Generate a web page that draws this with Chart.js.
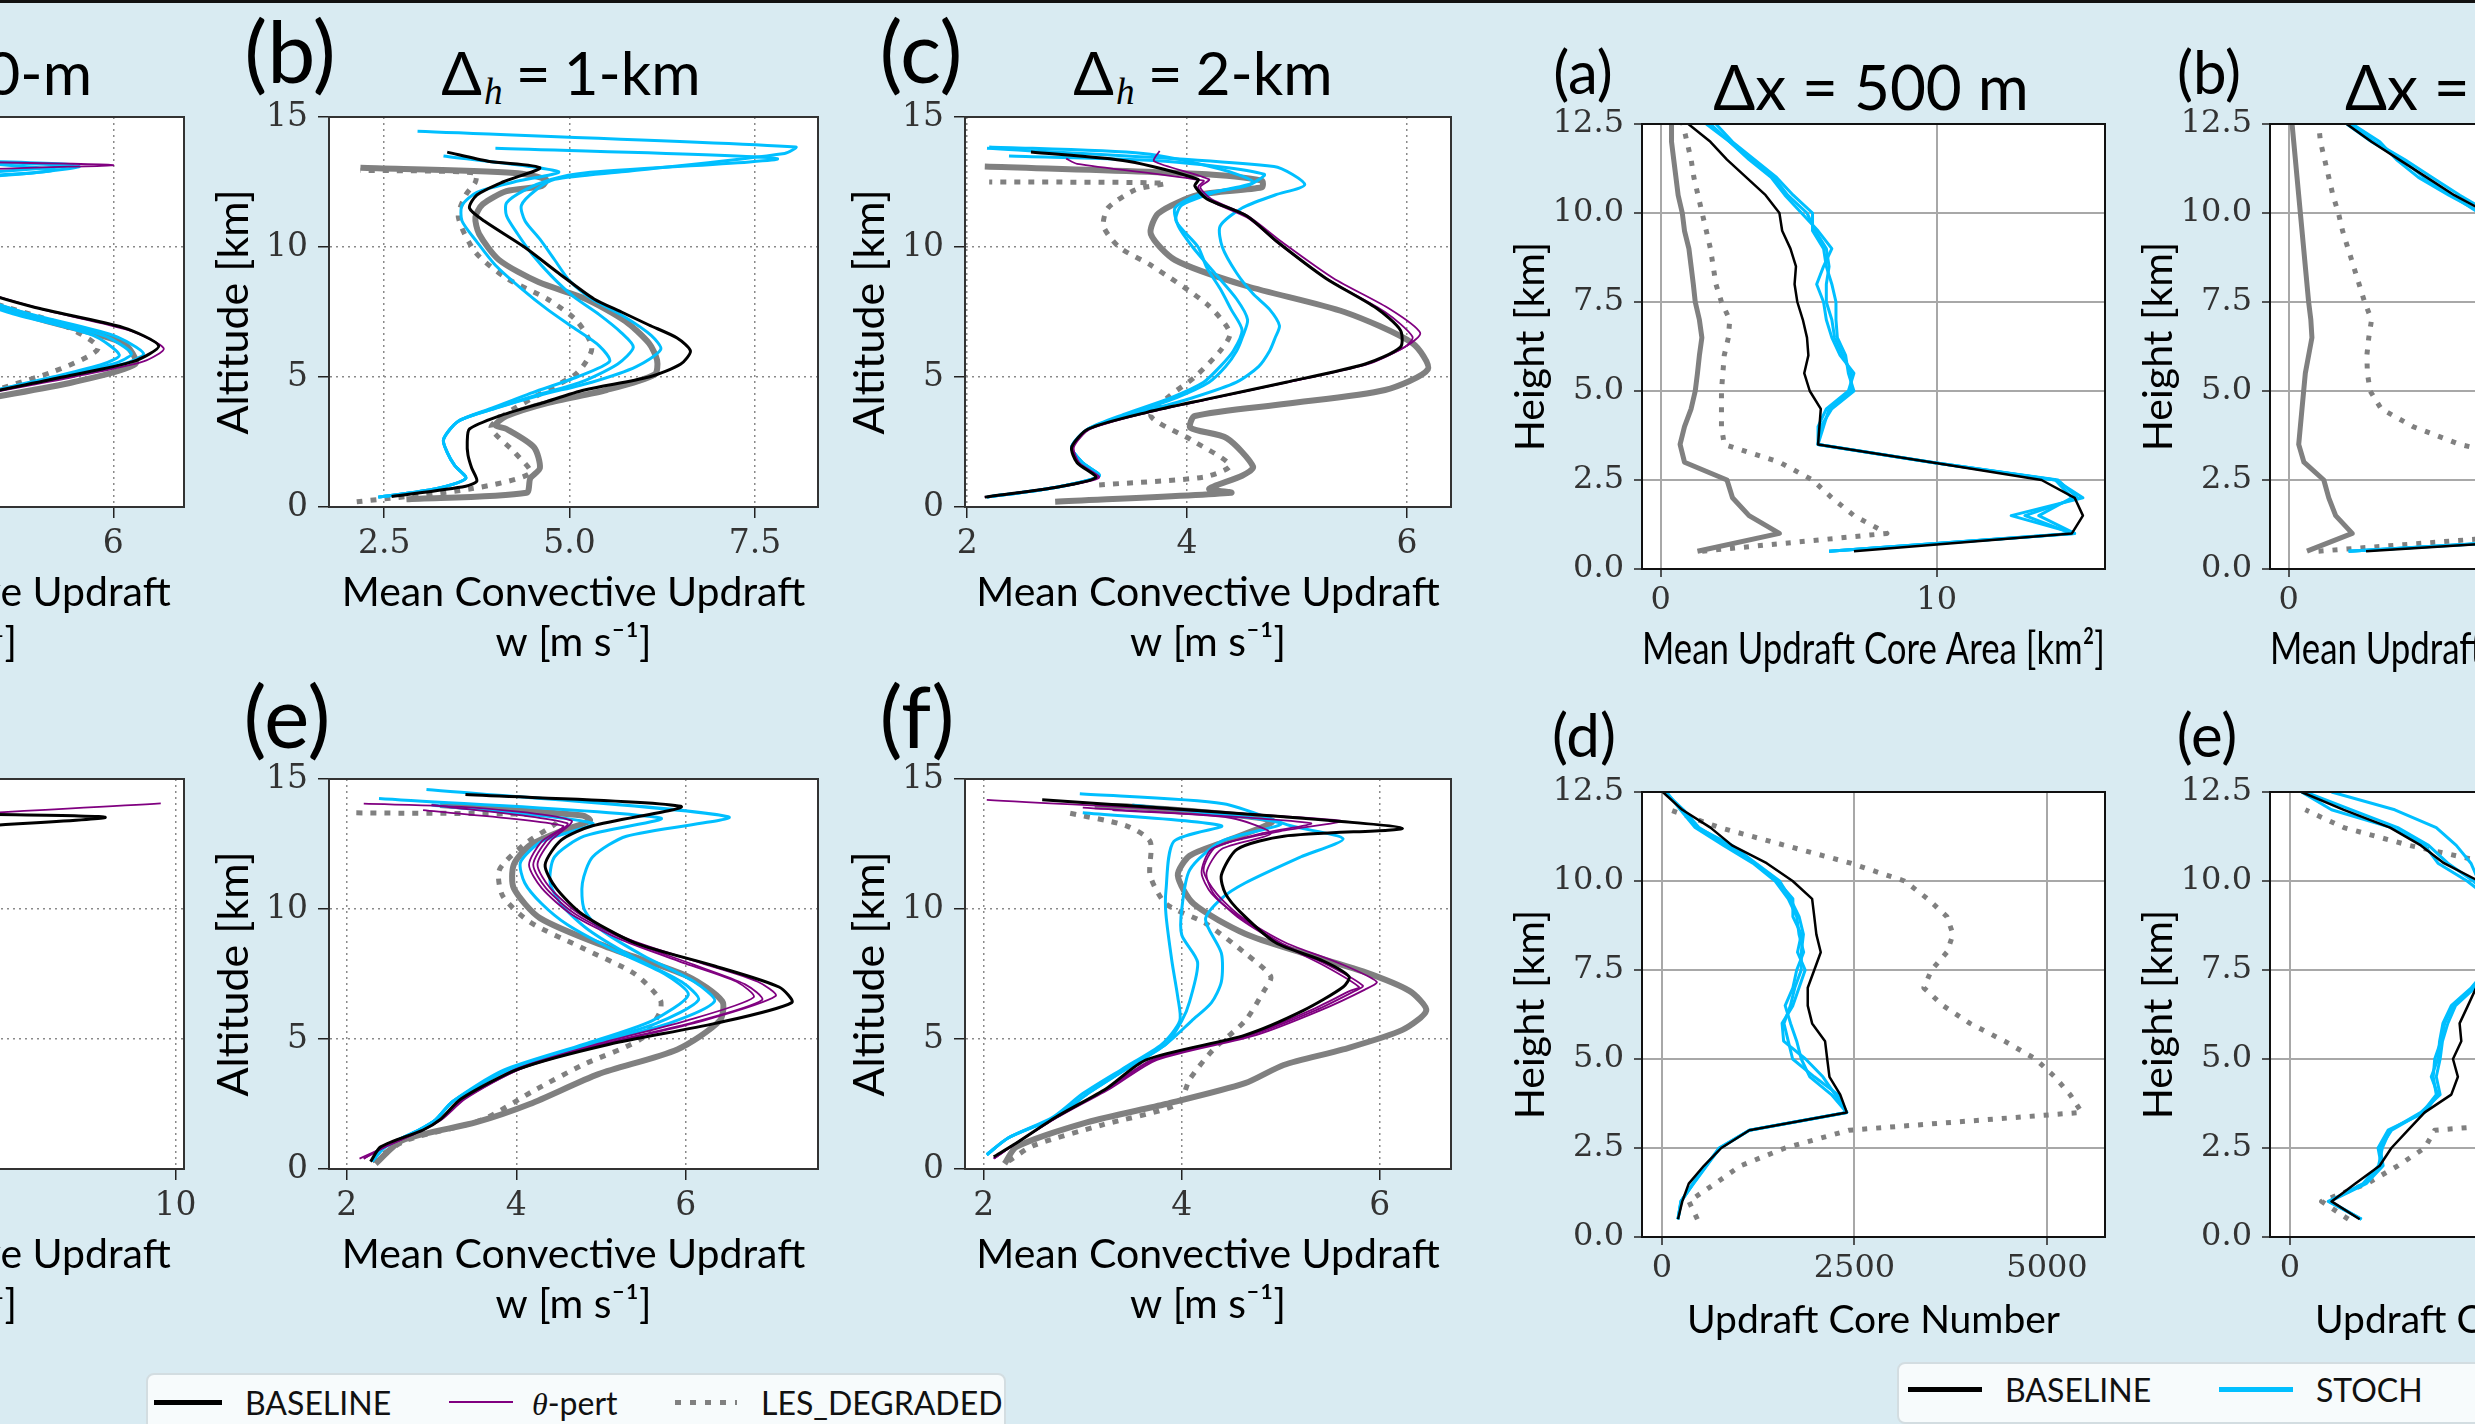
<!DOCTYPE html>
<html>
<head>
<meta charset="utf-8">
<script src="https://cdn.jsdelivr.net/npm/chart.js@4.4.1/dist/chart.umd.min.js"></script>
<style>
html, body { margin: 0; padding: 0; }
body { width: 2475px; height: 1424px; overflow: hidden; position: relative; background: #d9ebf2; }
canvas { position: absolute; }
.topline { position: absolute; left: 0; top: 0; width: 2475px; height: 3px; background: #111; }
.t { position: absolute; font-family: Lato, sans-serif; color: #000; white-space: nowrap; line-height: 1; transform: translate(-50%, -50%); }
.tr { transform: translate(-100%, -50%); }
.tl { transform: translate(0, -50%); }
.t sub { font-family: 'Liberation Serif', serif; font-style: italic; font-size: 0.62em; vertical-align: -0.25em; margin-left: 2px; }
.t .eq { margin: 0 0.22em; }
.legbox { position: absolute; background: #f7fbfc; border: 2px solid #d3dde1; border-radius: 8px; }
.legline { position: absolute; }
.legtxt { position: absolute; font-family: Lato, sans-serif; font-size: 32px; line-height: 1; color: #111; transform: translate(0, -50%); white-space: nowrap; }
</style>
</head>
<body>
<div class="topline"></div>

<!-- left figure: panel letters and titles -->
<div class="t tr" style="left:92px;top:76px;font-size:60px">&Delta;<sub>h</sub><span class="eq">=</span>500-m</div>
<div class="t" style="left:290px;top:50px;font-size:86px">(b)</div>
<div class="t" style="left:571px;top:76px;font-size:60px">&Delta;<sub>h</sub><span class="eq">=</span>1-km</div>
<div class="t" style="left:921px;top:50px;font-size:86px">(c)</div>
<div class="t" style="left:1203px;top:76px;font-size:60px">&Delta;<sub>h</sub><span class="eq">=</span>2-km</div>
<div class="t" style="left:287px;top:715px;font-size:86px">(e)</div>
<div class="t" style="left:917px;top:715px;font-size:86px">(f)</div>

<!-- right figure: panel letters and titles -->
<div class="t" style="left:1583px;top:71px;font-size:60px">(a)</div>
<div class="t" style="left:1871px;top:86px;font-size:62px">&Delta;x = 500 m</div>
<div class="t" style="left:2209px;top:71px;font-size:60px">(b)</div>
<div class="t tl" style="left:2345px;top:86px;font-size:62px">&Delta;x = 1 km</div>
<div class="t" style="left:1584px;top:734px;font-size:60px">(d)</div>
<div class="t" style="left:2207px;top:734px;font-size:60px">(e)</div>

<!-- legends -->
<div class="legbox" style="left:146px;top:1373px;width:856px;height:100px"></div>
<div class="legline" style="left:154px;top:1400px;width:68px;height:5px;background:#000"></div>
<div class="legtxt" style="left:245px;top:1403px">BASELINE</div>
<div class="legline" style="left:449px;top:1401px;width:64px;height:2px;background:#800080"></div>
<div class="legtxt" style="left:532px;top:1403px"><i style="font-family:'Liberation Serif',serif">&theta;</i>-pert</div>
<div class="legline" style="left:675px;top:1400px;width:62px;height:5px;background:repeating-linear-gradient(90deg,#808080 0 6px,transparent 6px 15px)"></div>
<div class="legtxt" style="left:761px;top:1403px">LES_DEGRADED</div>

<div class="legbox" style="left:1897px;top:1362px;width:700px;height:58px"></div>
<div class="legline" style="left:1908px;top:1387px;width:74px;height:5px;background:#000"></div>
<div class="legtxt" style="left:2005px;top:1390px">BASELINE</div>
<div class="legline" style="left:2219px;top:1387px;width:74px;height:5px;background:#00bfff"></div>
<div class="legtxt" style="left:2316px;top:1390px">STOCH</div>

<script>
// ---------- tick values and labels ----------
const altTicks = [0, 5, 10, 15];
const altLabels = ['0', '5', '10', '15'];
const w500Ticks = [2, 4, 6];
const w500Labels = ['2', '4', '6'];
const w1kmTicks = [2.5, 5.0, 7.5];
const w1kmLabels = ['2.5', '5.0', '7.5'];
const w2kmTicks = [2, 4, 6];
const w2kmLabels = ['2', '4', '6'];
const wBigTicks = [5, 10];
const wBigLabels = ['5', '10'];
const hTicks = [0, 2.5, 5, 7.5, 10, 12.5];
const hLabels = ['0.0', '2.5', '5.0', '7.5', '10.0', '12.5'];
const areaTicks = [0, 10];
const areaLabels = ['0', '10'];
const numTicks = [0, 2500, 5000];
const numLabels = ['0', '2500', '5000'];
const numTicksWide = [0, 5000];
const numLabelsWide = ['0', '5000'];

// ---------- left figure: mean convective updraft, [w (m/s), altitude (km)] ----------
// top row, partial panel (500-m)
const la_base = [[2.3,0.4],[2.8,1.0],[3.1,2.0],[3.5,3.0],[4.3,4.0],[5.5,5.0],[6.2,5.6],[6.45,6.2],[6.1,6.9],[5.2,7.7],[4.4,8.7],[3.9,10.0],[3.7,11.5],[3.9,12.5],[4.3,13.0],[3.2,13.5]];
const la_pert = [[2.3,0.4],[2.8,1.0],[3.1,2.0],[3.5,3.0],[4.3,4.0],[5.6,5.0],[6.3,5.6],[6.5,6.1],[6.15,6.8],[5.3,7.6],[4.4,8.7],[3.9,10.0],[3.7,11.5],[3.9,12.5],[4.6,12.95],[6.0,13.15],[4.2,13.3]];
const la_stoch1 = [[2.3,0.4],[2.8,1.0],[3.1,2.0],[3.5,3.0],[4.3,4.0],[5.5,5.0],[6.1,5.5],[6.3,5.9],[6.0,6.6],[5.1,7.5],[4.3,8.6],[3.9,10.0],[3.7,11.5],[4.0,12.5],[5.2,12.85],[5.66,13.1],[4.5,13.3]];
const la_stoch2 = [[2.3,0.4],[2.8,1.0],[3.1,2.0],[3.5,3.0],[4.3,4.0],[5.45,5.0],[6.0,5.5],[6.18,5.9],[5.9,6.6],[5.0,7.5],[4.25,8.6],[3.85,10.0],[3.7,11.5],[4.1,12.4],[5.4,12.95],[4.8,13.2],[3.9,13.4]];
const la_stoch3 = [[2.3,0.4],[2.8,1.0],[3.1,2.0],[3.5,3.0],[4.3,4.0],[5.4,5.0],[5.9,5.5],[6.06,5.85],[5.8,6.6],[4.95,7.5],[4.2,8.6],[3.8,10.0],[3.7,11.5],[4.2,12.6],[5.6,13.15],[4.0,13.35]];
const la_les = [[2.6,0.3],[3.0,1.0],[3.3,2.0],[3.6,3.0],[4.4,3.9],[5.6,4.8],[6.22,5.5],[6.1,6.3],[5.3,7.2],[4.5,8.2],[3.9,9.5],[3.6,11.0],[3.8,12.3],[3.0,13.0]];
const la_lesd = [[2.4,0.3],[2.9,1.0],[3.2,2.0],[3.6,3.0],[4.4,4.0],[5.4,5.2],[5.85,6.1],[5.5,7.0],[4.7,8.0],[4.0,9.3],[3.6,11.0],[3.7,12.3],[2.8,12.8]];

// (b) 1-km
const lb_base = [[2.6,0.4],[3.6,0.8],[3.75,1.0],[3.68,1.5],[3.63,2.0],[3.62,2.5],[3.65,3.0],[4.05,3.5],[4.63,4.0],[5.2,4.5],[6.07,5.0],[6.5,5.5],[6.63,6.0],[6.45,6.5],[6.07,7.0],[5.7,7.5],[5.33,8.0],[4.85,9.0],[4.39,10.0],[3.85,11.0],[3.65,11.5],[3.75,12.0],[4.1,12.5],[4.6,13.05],[3.9,13.3],[3.35,13.65]];
const lb_stoch1 = [[2.42,0.38],[3.2,0.7],[3.6,1.1],[3.45,1.6],[3.35,2.1],[3.3,2.6],[3.5,3.3],[4.0,3.8],[4.6,4.3],[5.3,4.8],[5.9,5.4],[6.23,6.06],[6.1,6.6],[5.75,7.3],[5.3,8.0],[5.0,8.7],[4.8,9.5],[4.6,10.3],[4.4,11.0],[4.35,11.6],[4.55,12.2],[4.8,12.6],[5.75,12.9],[7.9,13.6],[8.05,13.85],[2.95,14.45]];
const lb_stoch2 = [[2.42,0.38],[3.2,0.7],[3.6,1.1],[3.45,1.6],[3.35,2.1],[3.3,2.6],[3.5,3.3],[4.0,3.8],[4.55,4.3],[5.15,4.8],[5.65,5.5],[5.86,6.15],[5.7,6.7],[5.4,7.4],[5.05,8.1],[4.75,8.9],[4.5,9.7],[4.3,10.5],[4.15,11.2],[4.15,11.7],[4.4,12.2],[4.75,12.6],[5.2,12.85],[7.8,13.4],[4.0,13.8]];
const lb_stoch3 = [[2.42,0.38],[3.2,0.7],[3.6,1.1],[3.45,1.6],[3.35,2.1],[3.3,2.6],[3.5,3.3],[3.95,3.8],[4.5,4.4],[5.1,5.0],[5.54,5.6],[5.4,6.2],[5.05,6.9],[4.7,7.6],[4.35,8.4],[4.0,9.3],[3.75,10.2],[3.55,11.0],[3.55,11.6],[3.75,12.1],[4.25,12.5],[4.85,12.9],[3.3,13.5]];
const lb_les = [[2.8,0.3],[4.42,0.55],[4.47,1.1],[4.6,1.5],[4.52,2.3],[4.15,3.0],[4.0,3.15],[4.15,3.5],[4.7,4.0],[5.5,4.5],[6.15,5.1],[6.18,5.65],[6.07,6.3],[5.75,7.15],[5.22,8.0],[4.58,8.65],[4.05,9.5],[3.78,10.5],[3.73,11.15],[3.83,11.65],[4.15,12.15],[4.63,12.35],[4.68,12.6],[4.26,12.85],[2.18,13.05]];
const lb_lesd = [[2.13,0.2],[3.67,0.7],[4.47,1.3],[4.26,2.1],[3.94,3.05],[4.15,3.6],[4.7,4.5],[5.1,5.15],[5.3,6.1],[5.1,7.15],[4.7,8.0],[4.15,8.8],[3.73,9.8],[3.5,11.15],[3.6,12.0],[3.73,12.5],[3.73,12.85],[2.18,12.95]];

// (c) 2-km
const lc_base = [[2.16,0.38],[2.8,0.75],[3.17,1.13],[3.0,1.7],[2.95,2.3],[3.1,3.0],[3.64,3.65],[4.18,4.15],[4.9,4.8],[5.62,5.5],[5.94,6.15],[5.94,6.8],[5.72,7.65],[5.26,8.8],[4.82,10.2],[4.54,11.2],[4.18,11.85],[4.07,12.35],[4.1,12.6],[3.46,13.3],[2.58,13.65]];
const lc_pert1 = [[2.16,0.38],[2.8,0.75],[3.2,1.13],[3.02,1.7],[2.97,2.3],[3.12,3.0],[3.66,3.65],[4.2,4.15],[4.92,4.8],[5.65,5.5],[6.0,6.2],[6.12,6.7],[5.85,7.6],[5.33,8.8],[4.86,10.2],[4.55,11.2],[4.22,11.85],[4.12,12.3],[4.2,12.6],[3.7,13.3],[3.75,13.7]];
const lc_pert2 = [[2.16,0.38],[2.8,0.75],[3.18,1.13],[3.01,1.7],[2.96,2.3],[3.11,3.0],[3.65,3.65],[4.19,4.15],[4.91,4.8],[5.63,5.5],[5.98,6.15],[6.05,6.55],[5.8,7.5],[5.3,8.7],[4.84,10.1],[4.56,11.1],[4.2,11.8],[4.1,12.3],[4.15,12.55],[3.0,13.2],[2.9,13.4]];
const lc_stoch1 = [[2.18,0.38],[2.8,0.75],[3.2,1.2],[3.05,1.7],[2.95,2.3],[3.1,3.0],[3.55,3.6],[4.05,4.2],[4.45,4.8],[4.65,5.4],[4.75,6.0],[4.8,6.5],[4.84,6.97],[4.75,7.6],[4.6,8.2],[4.45,9.0],[4.32,10.0],[4.3,10.8],[4.5,11.5],[4.8,12.0],[5.07,12.4],[4.79,13.1],[2.18,13.8]];
const lc_stoch2 = [[2.18,0.38],[2.8,0.75],[3.2,1.2],[3.05,1.7],[2.95,2.3],[3.1,3.0],[3.5,3.6],[3.9,4.2],[4.2,4.8],[4.35,5.4],[4.45,6.0],[4.5,6.5],[4.55,7.2],[4.45,8.0],[4.25,9.0],[4.05,10.0],[3.92,10.8],[3.89,11.5],[4.1,12.0],[4.54,12.35],[4.7,12.8],[3.8,13.3],[2.38,13.5]];
const lc_stoch3 = [[2.18,0.38],[2.8,0.75],[3.2,1.2],[3.05,1.7],[2.95,2.3],[3.1,3.0],[3.45,3.6],[3.85,4.2],[4.15,4.8],[4.3,5.4],[4.42,6.0],[4.5,6.8],[4.4,7.6],[4.3,8.4],[4.18,9.2],[4.1,10.0],[3.9,11.0],[3.95,11.6],[4.25,12.1],[4.6,12.5],[4.3,13.0],[3.6,13.6],[2.2,13.85]];
const lc_les = [[2.8,0.2],[4.4,0.55],[4.2,0.7],[4.5,1.2],[4.6,1.55],[4.36,2.65],[4.03,3.05],[4.07,3.5],[4.9,3.97],[5.8,4.5],[6.19,5.3],[6.05,6.3],[5.43,7.5],[4.54,8.5],[3.89,9.5],[3.67,10.5],[3.74,11.3],[4.1,12.0],[4.68,12.3],[4.68,12.55],[4.18,12.8],[2.16,13.1]];
const lc_lesd = [[3.2,0.85],[4.15,1.15],[4.39,1.6],[4.03,2.6],[3.67,3.5],[3.85,4.3],[4.07,5.0],[4.3,6.0],[4.39,6.7],[4.18,7.8],[3.67,9.3],[3.38,10.0],[3.24,10.8],[3.28,11.5],[3.53,12.2],[3.8,12.45],[2.2,12.5]];

// bottom row, partial panel
const ld_base = [[2.2,0.3],[2.6,1.0],[3.1,2.0],[3.6,3.0],[4.5,4.0],[5.6,5.0],[6.4,6.0],[6.6,6.6],[6.2,7.3],[5.3,8.2],[4.6,9.2],[4.2,10.2],[4.0,11.2],[4.3,12.2],[5.0,12.9],[8.76,13.52],[5.5,13.7],[3.0,14.1]];
const ld_pert = [[2.2,0.3],[2.6,1.0],[3.1,2.0],[3.6,3.0],[4.5,4.0],[5.5,5.0],[6.3,6.0],[6.5,6.6],[6.1,7.3],[5.2,8.2],[4.5,9.2],[4.1,10.2],[3.9,11.2],[4.1,12.2],[4.3,12.9],[4.0,13.3],[9.74,14.06]];
const ld_stoch = [[2.2,0.3],[2.6,1.0],[3.0,2.0],[3.5,3.0],[4.3,4.0],[5.3,5.0],[6.0,6.0],[6.2,6.6],[5.8,7.3],[5.0,8.2],[4.4,9.2],[4.1,10.2],[3.9,11.2],[4.2,12.2],[5.2,13.0],[6.2,13.4],[3.5,14.0]];
const ld_les = [[2.3,0.3],[2.7,1.0],[3.3,2.0],[3.9,3.0],[4.8,4.0],[5.8,5.0],[6.4,6.0],[6.3,6.8],[5.6,7.7],[4.7,8.8],[4.1,10.0],[3.9,11.2],[4.2,12.4],[4.8,13.2],[3.0,13.8]];
const ld_lesd = [[2.3,0.3],[2.7,1.0],[3.3,2.0],[3.9,3.0],[4.6,4.0],[5.3,5.0],[5.6,6.0],[5.5,6.8],[4.9,7.8],[4.2,9.0],[3.8,10.2],[3.7,11.5],[4.1,12.6],[4.5,13.3],[2.2,13.6]];

// (e) 1-km
const le_base = [[2.28,0.28],[2.4,0.85],[2.9,1.5],[3.1,1.9],[3.35,2.7],[4.03,3.85],[5.1,4.8],[6.35,5.6],[7.25,6.4],[7.1,7.0],[6.35,7.8],[5.4,8.7],[4.78,9.8],[4.47,10.8],[4.34,11.7],[4.53,12.65],[4.9,13.2],[5.94,13.95],[3.4,14.4]];
const le_pert1 = [[2.15,0.4],[2.45,0.85],[2.9,1.5],[3.12,1.9],[3.4,2.7],[4.05,3.85],[5.05,4.8],[6.2,5.7],[7.06,6.65],[6.85,7.2],[6.2,7.9],[5.35,8.8],[4.75,9.8],[4.4,10.8],[4.25,11.7],[4.4,12.6],[4.65,13.4],[3.5,13.9],[2.2,14.05]];
const le_pert2 = [[2.2,0.4],[2.45,0.85],[2.9,1.5],[3.1,1.9],[3.38,2.7],[4.05,3.85],[5.0,4.8],[6.1,5.65],[6.9,6.5],[6.7,7.1],[6.1,7.85],[5.3,8.8],[4.7,9.8],[4.35,10.8],[4.2,11.7],[4.35,12.6],[4.6,13.3],[3.0,14.0]];
const le_pert3 = [[2.2,0.4],[2.45,0.85],[2.9,1.5],[3.1,1.9],[3.38,2.7],[4.0,3.85],[4.95,4.8],[6.0,5.7],[6.8,6.6],[6.6,7.2],[6.0,7.9],[5.25,8.8],[4.65,9.8],[4.3,10.8],[4.15,11.7],[4.3,12.6],[4.55,13.2],[2.9,13.8]];
const le_stoch1 = [[2.3,0.3],[2.45,0.85],[2.85,1.5],[3.05,1.9],[3.25,2.6],[3.9,3.8],[4.9,4.8],[5.8,5.6],[6.34,6.45],[6.1,7.2],[5.5,8.2],[5.0,9.2],[4.8,10.0],[4.78,11.0],[4.9,12.0],[5.3,12.8],[6.5,13.55],[2.94,14.6]];
const le_stoch2 = [[2.3,0.3],[2.45,0.85],[2.85,1.5],[3.05,1.9],[3.25,2.6],[3.9,3.8],[4.85,4.8],[5.65,5.6],[6.15,6.5],[5.95,7.2],[5.35,8.2],[4.85,9.2],[4.55,10.1],[4.4,11.0],[4.45,12.0],[4.8,12.8],[5.7,13.5],[2.38,14.25]];
const le_stoch3 = [[2.3,0.3],[2.45,0.85],[2.85,1.5],[3.05,1.9],[3.25,2.6],[3.85,3.8],[4.8,4.8],[5.6,5.7],[6.03,6.7],[5.75,7.5],[5.1,8.5],[4.6,9.4],[4.3,10.2],[4.1,11.0],[4.05,11.8],[4.3,12.6],[4.9,13.3],[3.0,14.0]];
const le_les = [[2.34,0.2],[2.65,1.1],[3.53,1.8],[4.16,2.5],[4.97,3.65],[5.9,4.6],[6.4,5.7],[6.43,6.45],[6.03,7.4],[5.1,8.5],[4.28,9.65],[3.97,10.8],[3.97,11.7],[4.16,12.45],[4.53,13.0],[4.87,13.4],[4.78,13.6],[3.1,14.0]];
const le_lesd = [[2.3,0.3],[2.7,1.1],[3.6,1.9],[4.2,3.0],[4.78,4.0],[5.47,5.0],[5.69,6.0],[5.7,6.5],[5.4,7.5],[4.78,8.5],[4.16,9.5],[3.84,10.5],[3.8,11.5],[4.1,12.5],[4.47,13.3],[4.5,13.6],[2.06,13.7]];

// (f) 2-km
const lf_base = [[2.1,0.47],[2.33,1.0],[2.73,2.0],[3.24,3.1],[3.64,4.2],[4.64,5.15],[5.23,6.1],[5.63,7.0],[5.69,7.4],[5.43,8.0],[4.95,8.7],[4.6,9.85],[4.44,10.6],[4.4,11.3],[4.56,12.3],[5.03,12.8],[6.23,13.1],[5.03,13.55],[2.59,14.2]];
const lf_pert1 = [[2.1,0.4],[2.33,1.0],[2.75,2.0],[3.28,3.1],[3.75,4.2],[4.75,5.15],[5.4,6.1],[5.85,6.9],[5.97,7.2],[5.6,7.9],[5.05,8.7],[4.6,9.7],[4.35,10.6],[4.22,11.5],[4.35,12.4],[5.0,13.0],[5.6,13.4],[2.03,14.2]];
const lf_pert2 = [[2.1,0.4],[2.33,1.0],[2.74,2.0],[3.26,3.1],[3.72,4.2],[4.7,5.15],[5.35,6.1],[5.75,6.85],[5.83,7.05],[5.5,7.8],[5.0,8.7],[4.58,9.7],[4.3,10.6],[4.2,11.4],[4.3,12.3],[4.8,12.9],[5.3,13.3],[3.0,13.9]];
const lf_pert3 = [[2.1,0.4],[2.33,1.0],[2.74,2.0],[3.25,3.1],[3.7,4.2],[4.68,5.15],[5.3,6.1],[5.7,6.85],[5.79,7.0],[5.45,7.8],[4.98,8.7],[4.56,9.7],[4.32,10.6],[4.25,11.4],[4.4,12.3],[4.9,12.9],[4.5,13.5],[3.3,13.8]];
const lf_stoch1 = [[2.03,0.55],[2.25,1.2],[2.73,2.0],[3.05,2.9],[3.44,3.85],[3.84,4.8],[4.1,5.7],[4.3,6.4],[4.4,7.2],[4.4,8.3],[4.24,9.6],[4.4,10.4],[4.64,11.0],[5.2,12.0],[5.63,12.7],[5.1,13.2],[4.42,14.05],[2.97,14.43]];
const lf_stoch2 = [[2.03,0.55],[2.25,1.2],[2.73,2.0],[3.05,2.9],[3.44,3.85],[3.84,4.8],[4.0,5.7],[4.08,6.45],[4.16,7.95],[4.0,9.0],[4.0,10.0],[4.08,11.5],[4.4,12.6],[5.0,13.3],[3.5,14.0]];
const lf_stoch3 = [[2.03,0.55],[2.25,1.2],[2.7,2.0],[3.0,2.9],[3.4,3.85],[3.8,4.8],[3.98,5.7],[3.96,6.6],[3.9,8.0],[3.84,9.8],[3.84,10.7],[3.92,12.6],[4.4,13.2],[3.0,13.7]];
const lf_les = [[2.21,0.2],[2.33,0.85],[3.05,1.8],[3.84,2.5],[4.64,3.3],[5.03,4.0],[5.63,4.6],[6.23,5.35],[6.47,6.1],[6.3,6.85],[5.83,7.6],[5.23,8.3],[4.64,9.05],[4.12,10.2],[3.96,11.3],[4.08,12.05],[4.44,12.6],[4.91,13.4],[3.44,13.95],[3.12,13.95]];
const lf_lesd = [[2.25,0.3],[2.5,0.9],[3.2,1.7],[3.96,2.5],[4.08,3.45],[4.32,4.6],[4.64,5.7],[4.83,6.85],[4.9,7.4],[4.64,8.3],[4.24,9.45],[3.84,10.2],[3.68,11.3],[3.68,12.6],[3.44,13.2],[2.85,13.7]];

// ---------- right figure: updraft cores on height levels (km) ----------
const hLevels = [0.5,1.0,1.5,2.0,2.5,3.0,3.5,4.0,4.5,5.0,5.5,6.0,6.5,7.0,7.5,8.0,8.5,9.0,9.5,10.0,10.5,11.0,11.5,12.0,12.5];

// (a) mean core area, km^2
const ra_base = [7.0,14.9,15.3,15.0,13.8,9.8,5.7,5.75,5.8,5.4,5.2,5.35,5.3,5.15,4.95,4.85,4.9,4.7,4.4,4.3,3.8,3.1,2.4,1.8,1.0];
const ra_stoch1 = [6.1,15.0,12.7,15.3,14.3,9.8,5.7,5.7,6.0,6.8,7.0,6.5,6.2,6.0,5.9,5.65,5.9,6.2,5.7,5.1,4.5,4.0,3.2,2.5,1.65];
const ra_stoch2 = [6.1,15.0,13.7,14.9,14.3,9.8,5.7,5.8,6.2,7.0,6.8,6.7,6.4,6.35,6.35,6.2,6.0,5.9,5.5,5.5,4.8,4.2,3.4,2.6,2.0];
const ra_stoch3 = [6.1,14.9,13.2,15.1,14.4,9.8,5.7,5.9,6.1,6.9,6.9,6.6,6.3,6.2,6.0,6.0,6.1,6.0,5.6,5.3,4.6,4.1,3.3,2.5,1.8];
const ra_les = [1.33,4.3,3.2,2.6,2.4,0.86,0.7,0.86,1.1,1.25,1.33,1.4,1.49,1.4,1.25,1.18,1.1,1.02,0.86,0.78,0.63,0.55,0.47,0.39,0.39];
const ra_lesd = [1.5,8.2,7.0,6.2,5.5,4.3,2.3,2.2,2.2,2.2,2.25,2.3,2.45,2.5,2.2,2.0,1.9,1.8,1.65,1.5,1.35,1.2,1.1,0.95,0.8];

// (b) mean core area, km^2 (partly off the picture)
const rb_base = [2.8,13.0,14.0,13.5,12.0,9.0,8.0,8.2,8.5,8.8,9.0,9.2,9.0,8.8,8.6,8.4,8.2,8.0,7.8,7.2,6.0,5.0,4.0,3.0,2.1];
const rb_stoch1 = [2.17,13.5,14.5,13.0,12.5,9.5,8.3,8.5,8.9,9.1,9.3,9.5,9.3,9.0,8.8,8.6,8.4,8.2,7.9,7.3,6.2,5.2,4.2,3.1,2.2];
const rb_stoch2 = [2.17,13.0,14.0,13.6,12.2,9.2,8.1,8.3,8.7,9.0,9.1,9.3,9.1,9.0,8.7,8.5,8.3,8.1,7.7,7.0,5.8,4.7,3.9,3.3,2.3];
const rb_stoch3 = [2.17,13.2,13.8,13.8,12.4,9.3,8.2,8.4,8.6,8.9,9.2,9.4,9.2,8.9,8.8,8.5,8.3,8.0,7.6,6.9,5.9,4.9,4.1,3.0,2.1];
const rb_les = [0.66,2.3,1.7,1.45,1.27,0.55,0.36,0.42,0.48,0.54,0.6,0.72,0.84,0.8,0.72,0.66,0.6,0.54,0.48,0.42,0.36,0.3,0.24,0.18,0.12];
const rb_lesd = [1.08,9.5,11.0,11.5,10.5,9.0,6.2,4.5,3.35,2.95,2.85,2.83,2.9,3.0,2.75,2.55,2.35,2.15,1.95,1.8,1.6,1.45,1.3,1.15,1.08];

// (d) core number
const rd_base = [208,264,348,545,770,1135,2400,2315,2175,2146,2118,1950,1893,1893,1978,2062,2005,1978,1950,1697,1360,910,630,264,11];
const rd_stoch1 = [208,247,405,573,742,1135,2400,2287,1978,1697,1640,1584,1668,1725,1809,1809,1837,1781,1668,1528,1219,910,461,264,40];
const rd_stoch2 = [208,250,400,560,760,1135,2400,2200,1920,1809,1750,1670,1600,1700,1750,1840,1780,1750,1640,1470,1180,800,430,240,60];
const rd_stoch3 = [208,245,410,580,750,1135,2400,2250,2090,1865,1580,1560,1700,1780,1860,1760,1810,1700,1700,1500,1200,860,480,280,30];
const rd_lesd = [460,350,690,1020,1600,2430,5450,5300,5100,4850,4450,4000,3650,3400,3500,3700,3780,3700,3450,3150,2450,1600,750,100,null];

// (e) core number (partly off the picture)
const re_base = [906,540,850,1165,1317,1533,1750,2095,2181,2117,2225,2203,2311,2418,2600,2800,2900,2850,2700,2450,2000,1700,1300,700,150];
const re_stoch1 = [930,497,972,1187,1144,1274,1750,1922,1835,1922,1943,1986,2095,2354,2550,2700,2800,2750,2600,2300,1922,1750,1317,540,150];
const re_stoch2 = [930,510,950,1150,1200,1300,1700,1950,1900,1950,1980,2050,2150,2400,2600,2750,2850,2800,2700,2450,2350,2160,1900,1361,540];
const re_stoch3 = [930,520,990,1210,1170,1320,1720,1900,1860,1880,1960,2010,2120,2380,2580,2720,2820,2780,2650,2380,2050,1800,1400,800,200];
const re_lesd = [757,411,1000,1400,1750,1880,4800,4700,4500,4300,4100,3900,3700,3600,3650,3750,3700,3600,3400,3000,2600,1550,700,200,null];

// ---------- helpers ----------
function pts(pairs) {
  return pairs.map(p => ({x: p[0], y: p[1]}));
}
function onLevels(vals) {
  return hLevels.map((h, i) => ({x: vals[i], y: h})).filter(p => p.x !== null);
}

const leftStyles = {
  base:  {borderColor: '#000000', borderWidth: 3},
  pert:  {borderColor: '#800080', borderWidth: 1.8},
  stoch: {borderColor: '#00bfff', borderWidth: 3},
  les:   {borderColor: '#808080', borderWidth: 6},
  lesd:  {borderColor: '#808080', borderWidth: 5, borderDash: [6, 8]}
};
const rightStyles = {
  base:  {borderColor: '#000000', borderWidth: 2.5},
  stoch: {borderColor: '#00bfff', borderWidth: 3},
  les:   {borderColor: '#808080', borderWidth: 5},
  lesd:  {borderColor: '#808080', borderWidth: 5, borderDash: [5, 9]}
};

// white plot area and a full box round it, like the matplotlib spines
const framePlugin = {
  id: 'frame',
  beforeDraw(chart) {
    const {ctx, chartArea: a} = chart;
    ctx.save();
    ctx.fillStyle = '#ffffff';
    ctx.fillRect(a.left, a.top, a.width, a.height);
    ctx.restore();
  },
  afterDraw(chart, args, opts) {
    const {ctx, chartArea: a} = chart;
    ctx.save();
    ctx.strokeStyle = opts.color;
    ctx.lineWidth = 2;
    ctx.strokeRect(a.left, a.top, a.width, a.height);
    ctx.restore();
  }
};

function axis(o, isX) {
  const ticks = isX ? o.xt : o.yt;
  const labels = isX ? o.xl : o.yl;
  const range = isX ? o.xr : o.yr;
  return {
    type: 'linear',
    position: isX ? 'bottom' : 'left',
    min: range[0],
    max: range[1],
    afterBuildTicks: s => { s.ticks = ticks.map(v => ({value: v})); },
    afterFit: s => { if (isX) s.height = o.xh; else s.width = o.yw; },
    ticks: {
      autoSkip: false, maxRotation: 0, minRotation: 0,
      padding: isX ? o.xpad : o.ypad,
      font: {family: 'DejaVu Serif', size: o.tickSize},
      color: '#333',
      callback: (v, i) => labels[i]
    },
    grid: {
      color: o.gridColor, lineWidth: o.gridWidth,
      tickLength: o.tickLen, tickColor: '#222', tickWidth: 1.5, tickBorderDash: []
    },
    border: {display: true, color: o.frame, width: 2, dash: o.gridDash},
    title: {
      display: true,
      text: isX ? o.xTitle : o.yTitle,
      font: {family: 'Lato', size: isX ? o.titleSize : o.yTitleSize, lineHeight: 1.2},
      color: '#000',
      padding: 0
    }
  };
}

function panel(area, o) {
  const PT = 30, PR = 40;
  const cv = document.createElement('canvas');
  cv.width = o.yw + area.w + PR;
  cv.height = PT + area.h + o.xh;
  cv.style.left = (area.x - o.yw) + 'px';
  cv.style.top = (area.y - PT) + 'px';
  document.body.appendChild(cv);

  const datasets = o.series.map(s => Object.assign({
    data: s.data,
    showLine: true,
    pointRadius: 0,
    pointHoverRadius: 0,
    fill: false,
    tension: o.tension,
    clip: 0,
    borderJoinStyle: 'round'
  }, o.styles[s.kind]));

  new Chart(cv, {
    type: 'scatter',
    data: {datasets},
    options: {
      responsive: false,
      animation: false,
      events: [],
      layout: {padding: {top: PT, right: PR, left: 0, bottom: 0}},
      plugins: {
        legend: {display: false},
        tooltip: {enabled: false},
        frame: {color: o.frame}
      },
      scales: {x: axis(o, true), y: axis(o, false)}
    },
    plugins: [framePlugin]
  });
}

// ---------- left figure panels ----------
const leftBase = {
  yw: 121, xh: 160, xpad: 7, ypad: 10, tickLen: 11, tickSize: 33, titleSize: 41, yTitleSize: 43,
  gridColor: '#8a8a8a', gridWidth: 1.5, gridDash: [2, 4], frame: '#333',
  yr: [0, 15], yt: altTicks, yl: altLabels,
  yTitle: 'Altitude [km]', xTitle: ['Mean Convective Updraft', 'w [m s\u207B\u00B9]'],
  tension: 0.25, styles: leftStyles
};
function leftSeries(base, perts, stochs, les, lesd) {
  const out = [{kind: 'base', data: pts(base)}];
  perts.forEach(p => out.push({kind: 'pert', data: pts(p)}));
  stochs.forEach(p => out.push({kind: 'stoch', data: pts(p)}));
  if (les) out.push({kind: 'les', data: pts(les)});
  if (lesd) out.push({kind: 'lesd', data: pts(lesd)});
  return out;
}

panel({x: -306, y: 117, w: 490, h: 390}, Object.assign({}, leftBase, {
  xr: [1.85, 6.7], xt: w500Ticks, xl: w500Labels,
  series: leftSeries(la_base, [la_pert], [la_stoch1, la_stoch2, la_stoch3], la_les, la_lesd)
}));
panel({x: 329, y: 117, w: 489, h: 390}, Object.assign({}, leftBase, {
  xr: [1.756, 8.35], xt: w1kmTicks, xl: w1kmLabels,
  series: leftSeries(lb_base, [], [lb_stoch1, lb_stoch2, lb_stoch3], lb_les, lb_lesd)
}));
panel({x: 965, y: 117, w: 486, h: 390}, Object.assign({}, leftBase, {
  xr: [1.98, 6.40], xt: w2kmTicks, xl: w2kmLabels,
  series: leftSeries(lc_base, [lc_pert1, lc_pert2], [lc_stoch1, lc_stoch2, lc_stoch3], lc_les, lc_lesd)
}));
panel({x: -306, y: 779, w: 490, h: 390}, Object.assign({}, leftBase, {
  xr: [1.5, 10.15], xt: wBigTicks, xl: wBigLabels,
  series: leftSeries(ld_base, [ld_pert], [ld_stoch], ld_les, ld_lesd)
}));
panel({x: 329, y: 779, w: 489, h: 390}, Object.assign({}, leftBase, {
  xr: [1.79, 7.56], xt: w500Ticks, xl: w500Labels,
  series: leftSeries(le_base, [le_pert1, le_pert2, le_pert3], [le_stoch1, le_stoch2, le_stoch3], le_les, le_lesd)
}));
panel({x: 965, y: 779, w: 486, h: 390}, Object.assign({}, leftBase, {
  xr: [1.81, 6.72], xt: w2kmTicks, xl: w2kmLabels,
  series: leftSeries(lf_base, [lf_pert1, lf_pert2, lf_pert3], [lf_stoch1, lf_stoch2, lf_stoch3], lf_les, lf_lesd)
}));

// ---------- right figure panels ----------
const rightBase = {
  yw: 136, xh: 107, xpad: 4, ypad: 10, tickLen: 8, tickSize: 32, titleSize: 41, yTitleSize: 41,
  gridColor: '#a8a8a8', gridWidth: 2, gridDash: [], frame: '#111',
  yr: [0, 12.5], yt: hTicks, yl: hLabels, yTitle: 'Height [km]',
  tension: 0, styles: rightStyles
};
function rightSeries(base, stochs, les, lesd) {
  const out = [{kind: 'base', data: onLevels(base)}];
  stochs.forEach(s => out.push({kind: 'stoch', data: onLevels(s)}));
  if (les) out.push({kind: 'les', data: onLevels(les)});
  if (lesd) out.push({kind: 'lesd', data: onLevels(lesd)});
  return out;
}

panel({x: 1642, y: 124, w: 463, h: 445}, Object.assign({}, rightBase, {
  xr: [-0.68, 16.1], xt: areaTicks, xl: areaLabels, xTitle: 'Mean Updraft Core Area [km\u00B2]', titleSize: 44,
  series: rightSeries(ra_base, [ra_stoch1, ra_stoch2, ra_stoch3], ra_les, ra_lesd)
}));
panel({x: 2270, y: 124, w: 463, h: 445}, Object.assign({}, rightBase, {
  xr: [-0.68, 16.1], xt: areaTicks, xl: areaLabels, xTitle: 'Mean Updraft Core Area [km\u00B2]', titleSize: 44,
  series: rightSeries(rb_base, [rb_stoch1, rb_stoch2, rb_stoch3], rb_les, rb_lesd)
}));
panel({x: 1642, y: 792, w: 463, h: 445}, Object.assign({}, rightBase, {
  xr: [-259, 5753], xt: numTicks, xl: numLabels, xTitle: 'Updraft Core Number', titleSize: 39,
  series: rightSeries(rd_base, [rd_stoch1, rd_stoch2, rd_stoch3], null, rd_lesd)
}));
panel({x: 2270, y: 792, w: 463, h: 445}, Object.assign({}, rightBase, {
  xr: [-259, 5753], xt: numTicksWide, xl: numLabelsWide, xTitle: 'Updraft Core Number', titleSize: 39,
  series: rightSeries(re_base, [re_stoch1, re_stoch2, re_stoch3], null, re_lesd)
}));
</script>
</body>
</html>
